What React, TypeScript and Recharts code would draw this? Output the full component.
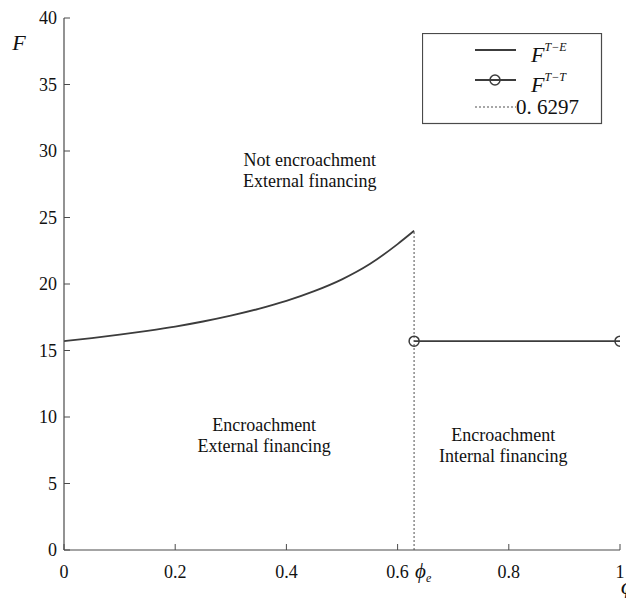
import React from 'react';
import { LineChart, Line, XAxis, YAxis, ReferenceDot } from 'recharts';

// ---- data ----
const phiCurve = [0, 0.05, 0.1, 0.15, 0.2, 0.25, 0.3, 0.35, 0.4, 0.45, 0.5, 0.55, 0.6, 0.6297];
const fTE = [15.7, 15.93, 16.19, 16.48, 16.8, 17.18, 17.62, 18.13, 18.73, 19.46, 20.35, 21.5, 23.0, 24.0];
const phiTT = [0.6297, 1];
const fTT = [15.7, 15.7];
const phiE = 0.6297;
const phiEBottom = 0;
const phiETop = 24.0;
const xTicks = [0, 0.2, 0.4, 0.6, 0.6297, 0.8, 1];
const yTicks = [0, 5, 10, 15, 20, 25, 30, 35, 40];
const annotations = [
  { x: 0.442, y: 29.3, lines: ['Not encroachment', 'External financing'] },
  { x: 0.36, y: 9.4, lines: ['Encroachment', 'External financing'] },
  { x: 0.79, y: 8.65, lines: ['Encroachment', 'Internal financing'] },
];
const legendLabel3 = '0. 6297';

const curveData = phiCurve.map((x, i) => ({ x, y: fTE[i] }));
const ttData = phiTT.map((x, i) => ({ x, y: fTT[i] }));
const eData = [
  { x: phiE, y: phiEBottom },
  { x: phiE, y: phiETop },
];

const FONT = '"Liberation Serif", "DejaVu Serif", serif';
const FRAME = '#4a4a4a';
const LINE = '#3c3c3c';

const LeftTick = (p: any) => {
  const { x, y, payload } = p;
  return (
    <g>
      <line x1={x} x2={x + 6} y1={y} y2={y} stroke={FRAME} strokeWidth={1} />
      <text x={x - 7} y={y} textAnchor="end" dominantBaseline="central" fontSize={18} fontFamily={FONT} fill="#111">
        {payload.value}
      </text>
    </g>
  );
};

const RightTick = (p: any) => {
  const { x, y } = p;
  return <line x1={x - 6} x2={x} y1={y} y2={y} stroke={FRAME} strokeWidth={1} />;
};

const BottomTick = (p: any) => {
  const { x, y, payload } = p;
  if (payload.value === phiE) {
    return (
      <text x={x + 1} y={y + 28} fontFamily={FONT} fill="#111">
        <tspan fontSize={21} fontStyle="italic">ϕ</tspan>
        <tspan fontSize={12} fontStyle="italic" dy={4}>e</tspan>
      </text>
    );
  }
  return (
    <g>
      <line x1={x} x2={x} y1={y} y2={y - 6} stroke={FRAME} strokeWidth={1} />
      <text x={x} y={y + 22} textAnchor="middle" dominantBaseline="central" fontSize={18} fontFamily={FONT} fill="#111">
        {payload.value}
      </text>
    </g>
  );
};

const TopTick = (p: any) => {
  const { x, y, payload } = p;
  if (payload.value === phiE) return <g />;
  return <line x1={x} x2={x} y1={y} y2={y + 6} stroke={FRAME} strokeWidth={1} />;
};

const Circle = (p: any) => {
  const { cx, cy } = p;
  if (cx == null || cy == null) return <g />;
  return <circle cx={cx} cy={cy} r={5} fill="none" stroke={LINE} strokeWidth={1.5} />;
};

const Legend = () => (
  <svg
    width={181}
    height={92}
    style={{ position: 'absolute', left: 414, top: 25 }}
  >
    <rect x={0.5} y={0.5} width={179} height={90} fill="#fff" stroke={FRAME} strokeWidth={1.2} />
    <line x1={53} x2={94} y1={17} y2={17} stroke={LINE} strokeWidth={1.8} />
    <text x={109} y={29} fontFamily={FONT} fill="#111">
      <tspan fontSize={22} fontStyle="italic">F</tspan>
      <tspan fontSize={12} fontStyle="italic" dy={-11}>T−E</tspan>
    </text>
    <line x1={53} x2={94} y1={47} y2={47} stroke={LINE} strokeWidth={1.8} />
    <circle cx={73} cy={47} r={5} fill="none" stroke={LINE} strokeWidth={1.5} />
    <text x={109} y={59} fontFamily={FONT} fill="#111">
      <tspan fontSize={22} fontStyle="italic">F</tspan>
      <tspan fontSize={12} fontStyle="italic" dy={-11}>T−T</tspan>
    </text>
    <line x1={53} x2={94} y1={74} y2={74} stroke="#8a8a8a" strokeWidth={1.5} strokeDasharray="2 2" />
    <text x={94} y={81} fontSize={21} fontFamily={FONT} fill="#111">
      {legendLabel3}
    </text>
  </svg>
);

export default function App() {
  return (
    <div style={{ position: 'relative', width: 626, height: 590, background: '#fff' }}>
      <LineChart width={626} height={590} margin={{ top: 10, right: 14, bottom: 0, left: 0 }}>
        <XAxis
          type="number"
          dataKey="x"
          domain={[0, 1]}
          ticks={xTicks}
          interval={0}
          height={48}
          tickSize={0}
          tickMargin={0}
          tickLine={false}
          tick={BottomTick}
          axisLine={{ stroke: FRAME, strokeWidth: 1.2 }}
          allowDataOverflow
          label={{
            content: (p: any) => {
              const vb = p.viewBox;
              return (
                <text x={vb.x + vb.width + 1} y={vb.y + 44} textAnchor="start" fontSize={24} fontStyle="italic" fontFamily={FONT} fill="#111">
                  ϕ
                </text>
              );
            },
          }}
        />
        <XAxis
          xAxisId="top"
          orientation="top"
          type="number"
          dataKey="x"
          domain={[0, 1]}
          ticks={xTicks}
          interval={0}
          height={0}
          tickSize={0}
          tickMargin={0}
          tickLine={false}
          tick={TopTick}
          axisLine={{ stroke: FRAME, strokeWidth: 1.2 }}
          allowDataOverflow
        />
        <YAxis
          type="number"
          domain={[0, 40]}
          ticks={yTicks}
          interval={0}
          width={56}
          tickSize={0}
          tickMargin={0}
          tickLine={false}
          tick={LeftTick}
          axisLine={{ stroke: FRAME, strokeWidth: 1.2 }}
          allowDataOverflow
          label={{
            content: (p: any) => {
              const vb = p.viewBox;
              return (
                <text x={vb.x + 11} y={vb.y + 32} textAnchor="middle" fontSize={22} fontStyle="italic" fontFamily={FONT} fill="#111">
                  F
                </text>
              );
            },
          }}
        />
        <YAxis
          yAxisId="r"
          orientation="right"
          type="number"
          domain={[0, 40]}
          ticks={yTicks}
          interval={0}
          width={0}
          tickSize={0}
          tickMargin={0}
          tickLine={false}
          tick={RightTick}
          axisLine={{ stroke: FRAME, strokeWidth: 1.2 }}
          allowDataOverflow
        />
        <Line
          data={eData}
          dataKey="y"
          type="linear"
          stroke="#8a8a8a"
          strokeWidth={1.5}
          strokeDasharray="2 2"
          dot={false}
          activeDot={false}
          isAnimationActive={false}
        />
        <Line
          data={curveData}
          dataKey="y"
          type="monotone"
          stroke={LINE}
          strokeWidth={1.8}
          dot={false}
          activeDot={false}
          isAnimationActive={false}
        />
        <Line
          data={ttData}
          dataKey="y"
          type="linear"
          stroke={LINE}
          strokeWidth={1.8}
          dot={<Circle />}
          activeDot={false}
          isAnimationActive={false}
        />
        {annotations.map((a, i) => (
          <ReferenceDot
            key={i}
            x={a.x}
            y={a.y}
            r={0}
            shape={(p: any) => (
              <text x={p.cx} y={p.cy + 6} textAnchor="middle" fontSize={18} fontFamily={FONT} fill="#111">
                {a.lines.map((l, j) => (
                  <tspan key={j} x={p.cx} dy={j === 0 ? 0 : 21}>
                    {l}
                  </tspan>
                ))}
              </text>
            )}
          />
        ))}
      </LineChart>
      <Legend />
    </div>
  );
}
